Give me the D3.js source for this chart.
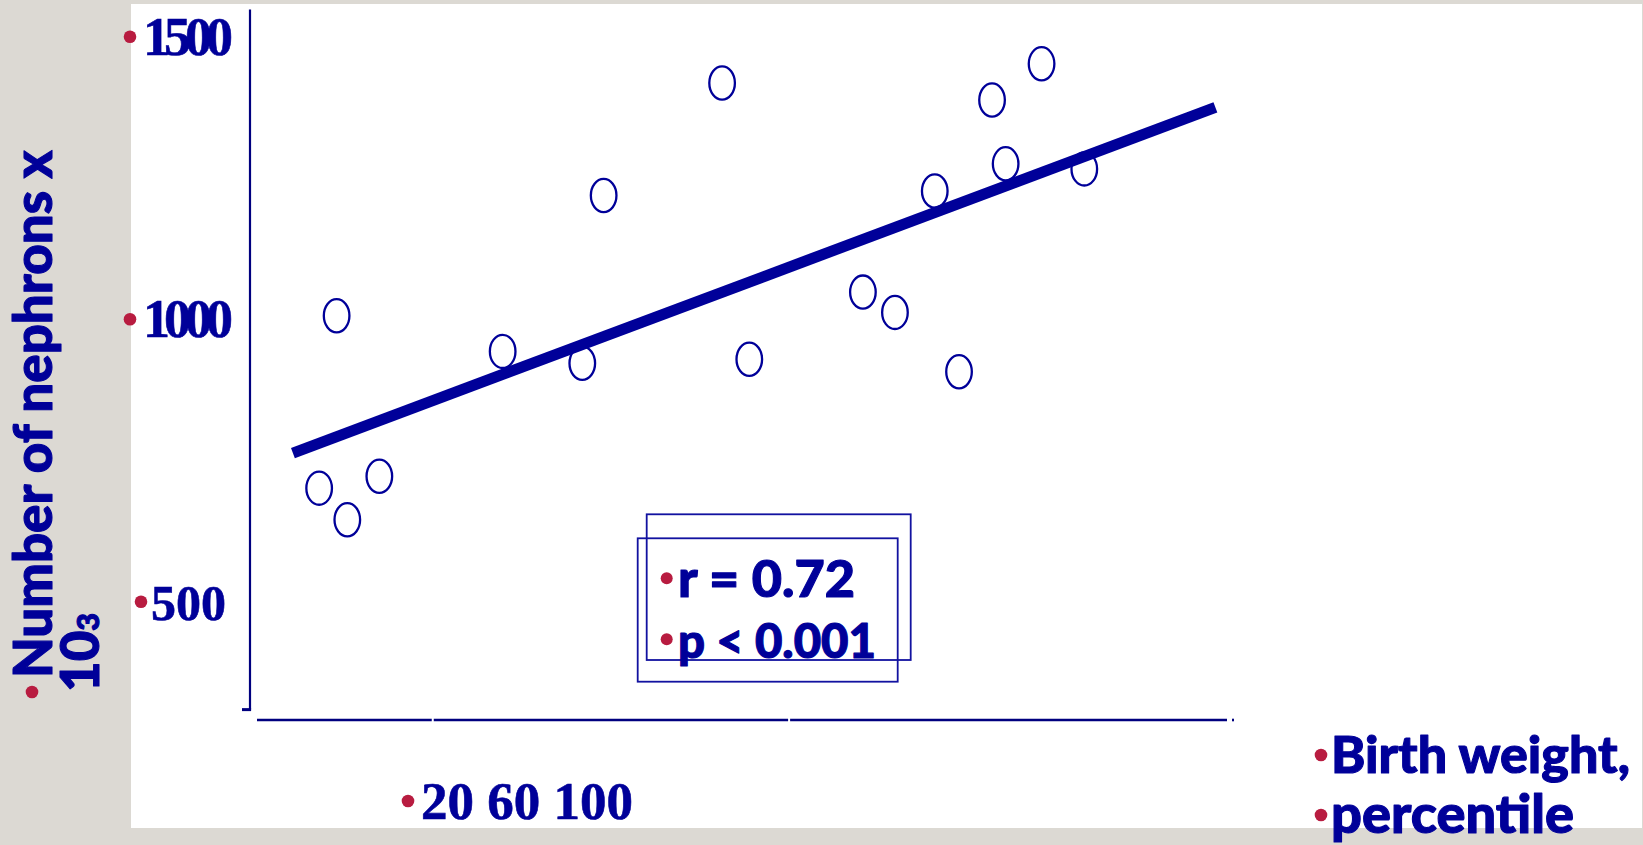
<!DOCTYPE html>
<html>
<head>
<meta charset="utf-8">
<script src="https://cdn.jsdelivr.net/npm/d3@7"></script>
<style>
  html, body { margin: 0; padding: 0; background: #dcd9d3; }
  svg { display: block; }
</style>
</head>
<body>
<svg id="chart" width="1643" height="845"></svg>
<script>
// Birth weight percentile vs. nephron count (x 10^3), one point per subject
const percentile = [6.4, 8.2, 9.3, 12.6, 25.3, 33.5, 35.7, 47.9, 50.7, 62.4, 65.7, 69.8, 72.3, 75.7, 77.1, 80.8, 85.2];
const nephrons   = [701, 1006, 645, 722, 943, 922, 1219, 1418, 929, 1048, 1012, 1227, 907, 1388, 1275, 1452, 1266];

// Regression line end points
const fitPercentile = [3.7, 98.7];
const fitNephrons   = [763, 1375];

// Axis labels
const yTickValues = [1500, 1000, 500];
const yTickLabels = ["1500", "1000", "500"];
const xTickText   = "20 60 100";
const yTitleText  = "Number of nephrons x";
const yTitleBase  = "10";
const yTitleSub   = "3";
const xTitleLines = ["Birth weight,", "percentile"];
const statLines   = ["r = 0.72", "p < 0.001"];

// Axis extents and breaks in the drawn axis line (data units)
const yAxisExtent = [309, 1548];
const xAxisBreaks = [0, 18.1, 54.8, 100];

const NAVY = "#000099";
const AXIS = "#00007f";
const RED  = "#b81c40";
const SANS = "Lato, 'Open Sans', 'Noto Sans', sans-serif";
const SERIF = "'Liberation Serif', 'DejaVu Serif', serif";

const svg = d3.select("#chart");

const x = d3.scaleLinear().domain([0, 100]).range([257, 1228]);
const y = d3.scaleLinear().domain([500, 1500]).range([601.7, 36.7]);

// shrink/grow a text's font size until it spans the wanted width
function fit(sel, width) {
  const node = sel.node();
  const fs = parseFloat(sel.attr("font-size"));
  const w = node.getComputedTextLength();
  sel.attr("font-size", fs * width / w);
  return sel;
}

// heavy sans text style
function heavy(sel) {
  return sel.attr("font-family", SANS).attr("font-weight", 900)
    .attr("fill", NAVY).attr("stroke", NAVY).attr("stroke-width", 1.1)
    .attr("stroke-linejoin", "round");
}

// slide panel
svg.append("rect")
  .attr("x", 131).attr("y", 4).attr("width", 1511).attr("height", 824)
  .attr("fill", "#ffffff");

// y axis line with a short foot
const yTop = y(yAxisExtent[1]), yBot = y(yAxisExtent[0]);
svg.append("line")
  .attr("x1", 250).attr("x2", 250).attr("y1", yTop).attr("y2", yBot)
  .attr("stroke", AXIS).attr("stroke-width", 2.2);
svg.append("line")
  .attr("x1", 242).attr("x2", 251.1).attr("y1", yBot).attr("y2", yBot)
  .attr("stroke", AXIS).attr("stroke-width", 3);

// x axis line, drawn in pieces
const xAxisY = 720;
const segs = d3.pairs(xAxisBreaks);
svg.append("g").selectAll("line").data(segs).join("line")
  .attr("x1", (d, i) => x(d[0]) + (i ? 1 : 0))
  .attr("x2", d => x(d[1]) - 1)
  .attr("y1", xAxisY).attr("y2", xAxisY)
  .attr("stroke", AXIS).attr("stroke-width", 2.6);
svg.append("rect")
  .attr("x", x(100) + 4).attr("y", xAxisY - 1.3).attr("width", 2).attr("height", 2.6)
  .attr("fill", AXIS);

// y tick labels with bullets
const yl = svg.append("g");
yTickValues.forEach((v, i) => {
  const wide = yTickLabels[i].length > 3;
  const tx = wide ? 143 : 151;
  yl.append("circle")
    .attr("cx", wide ? 130 : 141).attr("cy", y(v)).attr("r", 6.3)
    .attr("fill", RED);
  yl.append("text")
    .attr("x", tx).attr("y", y(v) + 18)
    .attr("font-family", SERIF).attr("font-weight", 700)
    .attr("font-size", wide ? 54 : 50)
    .attr("letter-spacing", wide ? -6 : 0)
    .attr("fill", NAVY).attr("stroke", NAVY).attr("stroke-width", 0.6)
    .text(yTickLabels[i]);
});

// x tick label line
svg.append("circle").attr("cx", 408).attr("cy", 801).attr("r", 6.3).attr("fill", RED);
fit(svg.append("text")
  .attr("x", 421).attr("y", 819)
  .attr("font-family", SERIF).attr("font-weight", 700)
  .attr("font-size", 53).attr("fill", NAVY).attr("stroke", NAVY).attr("stroke-width", 0.6)
  .text(xTickText), 212);

// regression line
svg.append("line")
  .attr("x1", x(fitPercentile[0])).attr("y1", y(fitNephrons[0]))
  .attr("x2", x(fitPercentile[1])).attr("y2", y(fitNephrons[1]))
  .attr("stroke", NAVY).attr("stroke-width", 11).attr("stroke-linecap", "butt");

// data points as open ellipses
const pts = d3.zip(percentile, nephrons);
svg.append("g").selectAll("ellipse").data(pts).join("ellipse")
  .attr("cx", d => x(d[0])).attr("cy", d => y(d[1]))
  .attr("rx", 12.8).attr("ry", 16.6)
  .attr("fill", "none").attr("stroke", NAVY).attr("stroke-width", 2.3);

// statistics boxes
svg.append("rect")
  .attr("x", 646.7).attr("y", 514.3).attr("width", 264).attr("height", 145.7)
  .attr("fill", "none").attr("stroke", "#1212a0").attr("stroke-width", 1.8);
svg.append("rect")
  .attr("x", 637.7).attr("y", 538.3).attr("width", 260).attr("height", 143.4)
  .attr("fill", "none").attr("stroke", "#1212a0").attr("stroke-width", 1.8);

const statBase = [596.7, 657.7];
const statWidth = [177, 198];
statLines.forEach((s, i) => {
  svg.append("circle").attr("cx", 666.7).attr("cy", statBase[i] - 18.5).attr("r", 6)
    .attr("fill", RED);
  fit(heavy(svg.append("text"))
    .attr("x", 678).attr("y", statBase[i])
    .attr("font-size", 48)
    .text(s), statWidth[i]);
});

// y axis title, rotated
const yt = svg.append("g").attr("transform", "rotate(-90)");
yt.append("circle").attr("cx", -692).attr("cy", 32).attr("r", 6.3).attr("fill", RED);
const t1 = heavy(yt.append("text"))
  .attr("x", -678).attr("y", 51.5)
  .attr("font-size", 50)
  .text(yTitleText);
fit(t1, 528);
const fsTitle = parseFloat(t1.attr("font-size"));
const t2 = heavy(yt.append("text"))
  .attr("x", -692).attr("y", 99)
  .attr("font-size", fsTitle);
t2.append("tspan").text(yTitleBase);
t2.append("tspan").attr("font-size", fsTitle * 0.58).text(yTitleSub);

// x axis title, two bulleted lines
const xtBase = [773, 833];
const xtWidth = [299, 243];
xTitleLines.forEach((s, i) => {
  svg.append("circle").attr("cx", 1321).attr("cy", xtBase[i] - 18).attr("r", 6.3)
    .attr("fill", RED);
  fit(heavy(svg.append("text"))
    .attr("x", 1331).attr("y", xtBase[i])
    .attr("font-size", 50)
    .text(s), xtWidth[i]);
});
</script>
</body>
</html>
